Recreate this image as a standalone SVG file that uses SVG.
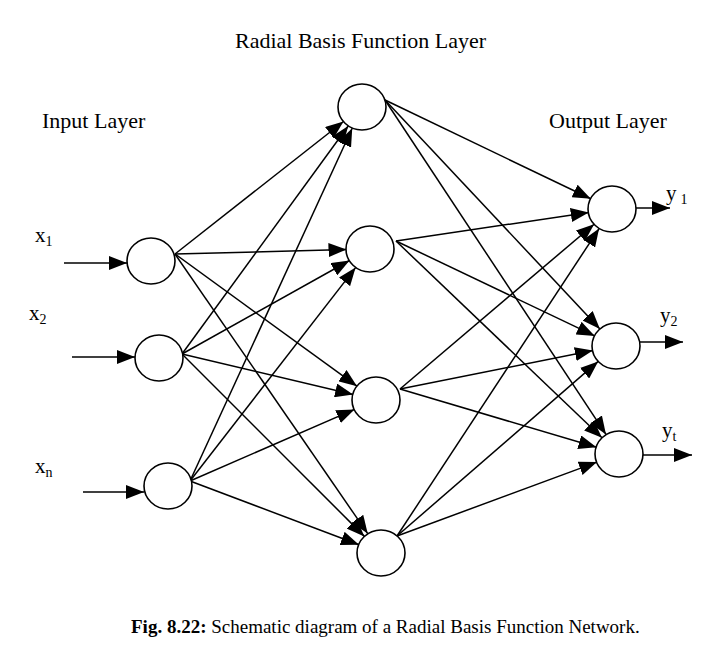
<svg xmlns="http://www.w3.org/2000/svg" width="718" height="647" viewBox="0 0 718 647">
<style>
text{font-family:"Liberation Serif","Times New Roman",serif;fill:#000}
.node{fill:#fff;stroke:#000;stroke-width:1.6}
.edge{stroke:#000;stroke-width:1.5;fill:none;marker-end:url(#ah)}
</style>
<defs>
<marker id="ah" markerUnits="userSpaceOnUse" markerWidth="20" markerHeight="14" refX="18" refY="7" orient="auto">
<path d="M0,0 L18,7 L0,14 z" fill="#000"/>
</marker>
</defs>
<rect width="718" height="647" fill="#fff"/>
<text x="235" y="48" font-size="22">Radial Basis Function Layer</text>
<text x="42" y="128" font-size="22">Input Layer</text>
<text x="549" y="128" font-size="22">Output Layer</text>
<g id="connectors">
<line class="edge" x1="64" y1="263" x2="127" y2="263"/>
<line class="edge" x1="72" y1="357" x2="135" y2="357"/>
<line class="edge" x1="83" y1="492" x2="144" y2="492"/>
<line class="edge" x1="175" y1="254" x2="343.5" y2="121.5"/>
<line class="edge" x1="175" y1="254" x2="346.5" y2="249.6"/>
<line class="edge" x1="175" y1="254" x2="357" y2="386.2"/>
<line class="edge" x1="175" y1="254" x2="367.7" y2="533.6"/>
<line class="edge" x1="182" y1="354" x2="348.2" y2="126"/>
<line class="edge" x1="182" y1="354" x2="349.5" y2="260.5"/>
<line class="edge" x1="182" y1="354" x2="353.1" y2="394.6"/>
<line class="edge" x1="182" y1="354" x2="364.4" y2="536.4"/>
<line class="edge" x1="190" y1="481" x2="352.2" y2="128.3"/>
<line class="edge" x1="190" y1="481" x2="355.6" y2="267.6"/>
<line class="edge" x1="190" y1="481" x2="354.5" y2="409.4"/>
<line class="edge" x1="190" y1="481" x2="359" y2="544.7"/>
<line class="edge" x1="385" y1="100" x2="590.8" y2="198.8"/>
<line class="edge" x1="385" y1="100" x2="599.9" y2="328.9"/>
<line class="edge" x1="385" y1="100" x2="606" y2="434.4"/>
<line class="edge" x1="396" y1="241" x2="588.8" y2="212.4"/>
<line class="edge" x1="396" y1="241" x2="594.8" y2="335.9"/>
<line class="edge" x1="396" y1="241" x2="602" y2="437.8"/>
<line class="edge" x1="400" y1="389" x2="594.1" y2="224.2"/>
<line class="edge" x1="400" y1="389" x2="592.9" y2="350.6"/>
<line class="edge" x1="400" y1="389" x2="596.5" y2="447.3"/>
<line class="edge" x1="397" y1="536" x2="599.1" y2="228.6"/>
<line class="edge" x1="397" y1="536" x2="598.2" y2="361.4"/>
<line class="edge" x1="397" y1="536" x2="597" y2="462.1"/>
<line class="edge" x1="636" y1="208" x2="670" y2="208"/>
<line class="edge" x1="640" y1="342" x2="683" y2="342"/>
<line class="edge" x1="643" y1="455" x2="692" y2="455"/>
</g>
<g id="input1"><ellipse class="node" cx="151" cy="261" rx="24" ry="23"/></g>
<g id="input2"><ellipse class="node" cx="159" cy="358" rx="24" ry="23"/></g>
<g id="inputn"><ellipse class="node" cx="168" cy="486" rx="24" ry="23"/></g>
<g id="rbf1"><ellipse class="node" cx="362" cy="107" rx="24" ry="23"/></g>
<g id="rbf2"><ellipse class="node" cx="370" cy="249" rx="24" ry="23"/></g>
<g id="rbf3"><ellipse class="node" cx="376" cy="400" rx="24" ry="23"/></g>
<g id="rbf4"><ellipse class="node" cx="381" cy="553" rx="24" ry="23"/></g>
<g id="output1"><ellipse class="node" cx="612" cy="209" rx="24" ry="23"/></g>
<g id="output2"><ellipse class="node" cx="616" cy="346" rx="24" ry="23"/></g>
<g id="outputt"><ellipse class="node" cx="619" cy="454" rx="24" ry="23"/></g>
<g id="labels">
<text x="35" y="242" font-size="21">x<tspan font-size="14" dy="4">1</tspan></text>
<text x="29" y="320" font-size="21">x<tspan font-size="14" dy="4">2</tspan></text>
<text x="35" y="473" font-size="21">x<tspan font-size="14" dy="4">n</tspan></text>
<text x="666" y="200" font-size="21">y<tspan font-size="14" dx="4" dy="4">1</tspan></text>
<text x="660" y="322" font-size="21">y<tspan font-size="14" dy="4">2</tspan></text>
<text x="662" y="437" font-size="21">y<tspan font-size="14" dy="4">t</tspan></text>
</g>
<text x="131" y="633" font-size="19"><tspan font-weight="bold">Fig. 8.22:</tspan> Schematic diagram of a Radial Basis Function Network.</text>
</svg>
